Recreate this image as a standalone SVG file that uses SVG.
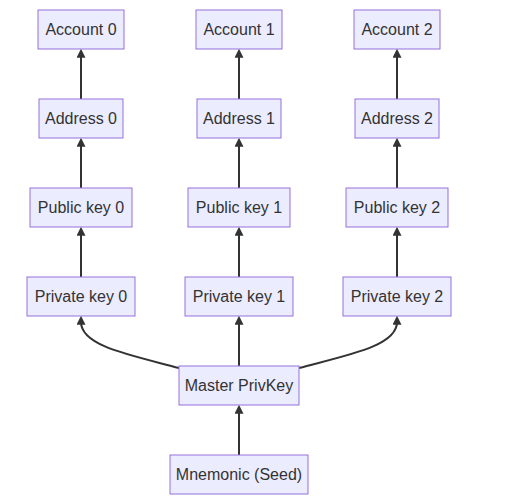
<svg xmlns="http://www.w3.org/2000/svg" width="515" height="503" viewBox="0 0 515 503">
<style>
.node rect{fill:#ECECFF;stroke:#9370DB;stroke-width:1px}
.node text{font-family:"Trebuchet MS","Liberation Sans",Arial,sans-serif;font-size:16px;fill:#333333;text-anchor:middle}
.edge{fill:none;stroke:#333333;stroke-width:2px;marker-end:url(#arrow)}
</style>
<defs>
<marker id="arrow" markerUnits="userSpaceOnUse" viewBox="0 0 10 10" refX="3" refY="5" markerWidth="9" markerHeight="9" orient="auto">
<path d="M0,0 L10,5 L0,10 z" fill="#333333"/>
</marker>
</defs>
<rect width="515" height="503" fill="#ffffff"/>
<g id="connectors">
<path class="edge" d="M81,99 L81,55"/>
<path class="edge" d="M81,188 L81,144"/>
<path class="edge" d="M81,277 L81,233"/>
<path class="edge" d="M239,99 L239,55"/>
<path class="edge" d="M239,188 L239,144"/>
<path class="edge" d="M239,277 L239,233"/>
<path class="edge" d="M397,99 L397,55"/>
<path class="edge" d="M397,188 L397,144"/>
<path class="edge" d="M397,277 L397,233"/>
<path class="edge" d="M179,368 C130,355 81,346 81,322"/>
<path class="edge" d="M239,366 L239,322"/>
<path class="edge" d="M299,368 C348,355 397,346 397,322"/>
<path class="edge" d="M239,455 L239,411"/>
</g>
<g id="account0" class="node"><rect x="38" y="10" width="86" height="39"/><text x="81" y="35">Account 0</text></g>
<g id="account1" class="node"><rect x="196" y="10" width="86" height="39"/><text x="239" y="35">Account 1</text></g>
<g id="account2" class="node"><rect x="354" y="10" width="86" height="39"/><text x="397" y="35">Account 2</text></g>
<g id="address0" class="node"><rect x="39" y="99" width="84" height="39"/><text x="81" y="124">Address 0</text></g>
<g id="address1" class="node"><rect x="197" y="99" width="84" height="39"/><text x="239" y="124">Address 1</text></g>
<g id="address2" class="node"><rect x="355" y="99" width="84" height="39"/><text x="397" y="124">Address 2</text></g>
<g id="pubkey0" class="node"><rect x="30" y="188" width="102" height="39"/><text x="81" y="213">Public key 0</text></g>
<g id="pubkey1" class="node"><rect x="188" y="188" width="102" height="39"/><text x="239" y="213">Public key 1</text></g>
<g id="pubkey2" class="node"><rect x="346" y="188" width="102" height="39"/><text x="397" y="213">Public key 2</text></g>
<g id="privkey0" class="node"><rect x="27" y="277" width="108" height="39"/><text x="81" y="302">Private key 0</text></g>
<g id="privkey1" class="node"><rect x="185" y="277" width="108" height="39"/><text x="239" y="302">Private key 1</text></g>
<g id="privkey2" class="node"><rect x="343" y="277" width="108" height="39"/><text x="397" y="302">Private key 2</text></g>
<g id="master" class="node"><rect x="179" y="366" width="120" height="39"/><text x="239" y="391">Master PrivKey</text></g>
<g id="mnemonic" class="node"><rect x="170" y="455" width="138" height="39"/><text x="239" y="480">Mnemonic (Seed)</text></g>
</svg>
